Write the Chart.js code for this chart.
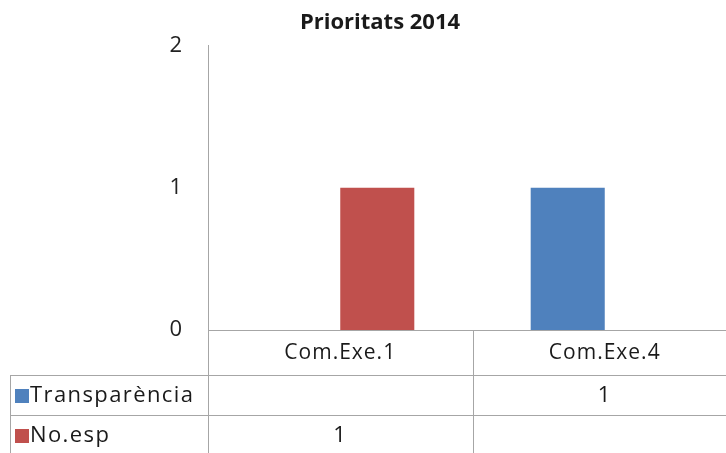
<!DOCTYPE html>
<html lang="ca">
<head>
  <meta charset="UTF-8" />
  <title>Prioritats 2014</title>
  <script src="https://cdn.jsdelivr.net/npm/chart.js"></script>
  <style>
    html, body { margin: 0; padding: 0; overflow: hidden; background: #fff; }
    #wrap { width: 760px; height: 453px; }
  </style>
</head>
<body>
  <div id="wrap"><canvas id="chart" width="760" height="453"></canvas></div>

  <script>
    // data
    const categories = ['Com.Exe.1', 'Com.Exe.4'];
    const seriesNames = ['Transparència', 'No.esp'];
    const transparencia = [null, 1];
    const noEsp = [1, null];
    const seriesColors = ['#4f81bd', '#c0504d'];
    const yMax = 2;

    const lineColor = '#a6a6a6';
    const font = '"Open Sans", "Noto Sans", sans-serif';

    // excel-like data table under the plot
    const dataTable = {
      id: 'dataTable',
      afterDraw(chart) {
        const ctx = chart.ctx;
        const xs = chart.scales.x;
        const area = chart.chartArea;
        const catW = (xs.right - xs.left) / categories.length;
        const headerH = 45, rowH = 40, tableLeft = 10;
        const top = area.bottom;
        const rowTops = [top + headerH, top + headerH + rowH, top + headerH + 2 * rowH];

        ctx.save();
        ctx.strokeStyle = lineColor;
        ctx.lineWidth = 1;
        ctx.beginPath();
        // horizontal lines
        rowTops.forEach(y => { ctx.moveTo(tableLeft, y + 0.5); ctx.lineTo(chart.width, y + 0.5); });
        // left border + axis continuation
        ctx.moveTo(tableLeft + 0.5, rowTops[0]); ctx.lineTo(tableLeft + 0.5, chart.height);
        ctx.moveTo(area.left + 0.5, area.bottom); ctx.lineTo(area.left + 0.5, chart.height);
        for (let i = 1; i < categories.length; i++) {
          const bx = Math.round(xs.left + catW * i) + 0.5;
          ctx.moveTo(bx, top); ctx.lineTo(bx, chart.height);
        }
        ctx.stroke();

        ctx.fillStyle = '#1a1a1a';
        ctx.textAlign = 'center';
        ctx.textBaseline = 'middle';
        ctx.letterSpacing = '1px';
        ctx.font = '21px ' + font;
        categories.forEach((c, i) => ctx.fillText(c, xs.getPixelForValue(i), top + headerH / 2 + 1));

        chart.data.datasets.forEach((ds, r) => {
          const cy = rowTops[r] + rowH / 2 + 1;
          ctx.fillStyle = ds.backgroundColor;
          ctx.fillRect(tableLeft + 5, cy - 7, 14, 14);
          ctx.fillStyle = '#1a1a1a';
          ctx.textAlign = 'left';
          ctx.font = '22px ' + font;
          ctx.letterSpacing = '1.4px';
          ctx.fillText(ds.label, tableLeft + 20, cy);
          ctx.textAlign = 'center';
          ds.data.forEach((v, i) => {
            if (v !== null) ctx.fillText(String(v), xs.getPixelForValue(i), cy);
          });
        });
        ctx.restore();
      }
    };

    new Chart(document.getElementById('chart'), {
      type: 'bar',
      data: {
        labels: categories,
        datasets: [
          { label: seriesNames[0], data: transparencia, backgroundColor: seriesColors[0] },
          { label: seriesNames[1], data: noEsp, backgroundColor: seriesColors[1] }
        ]
      },
      options: {
        responsive: false,
        animation: false,
        categoryPercentage: 0.56,
        barPercentage: 1,
        layout: { padding: { left: 23, right: 23, top: 0, bottom: 115 } },
        plugins: {
          legend: { display: false },
          tooltip: { enabled: false },
          title: {
            display: true,
            text: 'Prioritats 2014',
            color: '#1a1a1a',
            font: { family: font, size: 22, weight: 'bold' },
            padding: { top: 10, bottom: 9 }
          }
        },
        scales: {
          x: {
            ticks: { display: false },
            grid: { display: false },
            border: { color: lineColor }
          },
          y: {
            min: 0,
            max: yMax,
            ticks: { stepSize: 1, padding: 26, color: '#222', font: { family: font, size: 22 } },
            grid: { display: false, drawTicks: false },
            border: { color: lineColor },
            afterFit(s) { s.width = 185; }
          }
        }
      },
      plugins: [dataTable]
    });
  </script>
</body>
</html>
